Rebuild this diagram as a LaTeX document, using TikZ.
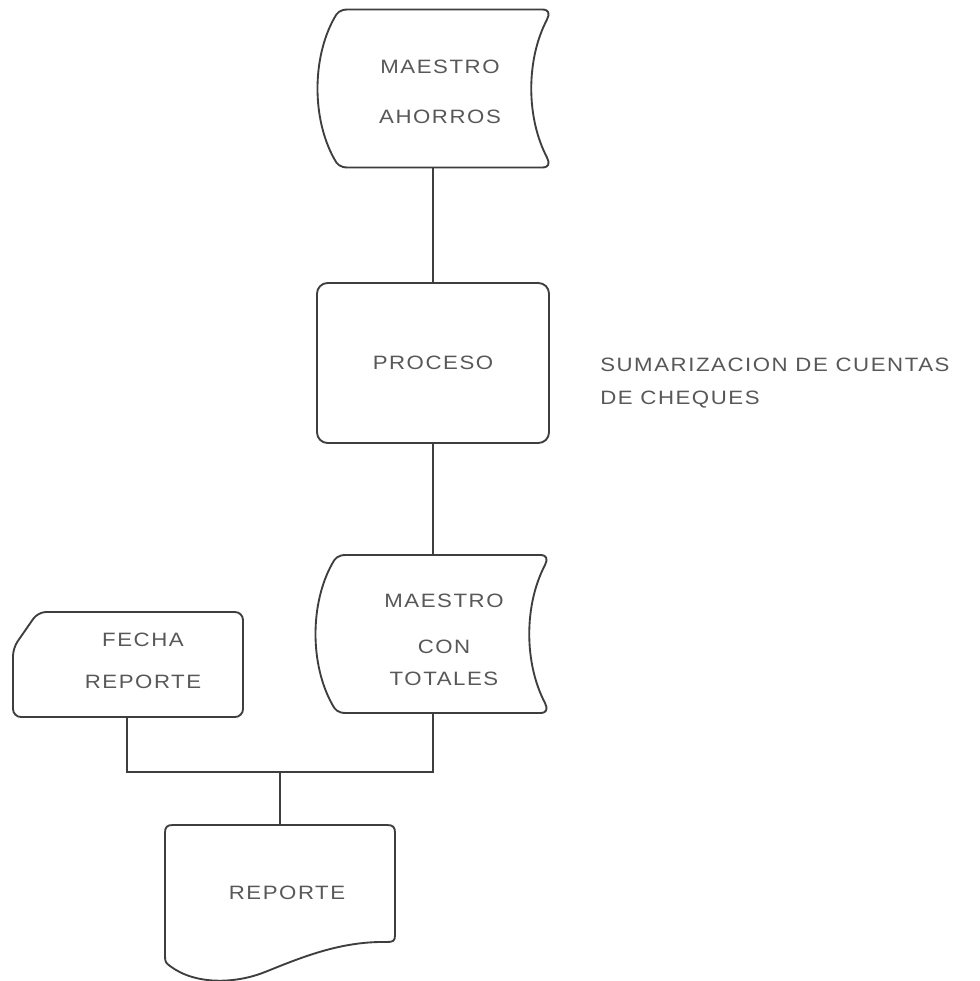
\documentclass[tikz,border=0pt]{standalone}
\usepackage{fontspec}
\newfontfamily\typed{Liberation Sans}[FakeStretch=1.15,LetterSpace=8]
\definecolor{ink}{RGB}{62,62,62}
\definecolor{typeink}{RGB}{88,88,88}

\tikzset{
  outline/.style={draw=ink,line width=1.4pt,line join=round},
  wire/.style={draw=ink,line width=1.3pt},
  lbl/.style={text=typeink,align=center,inner sep=0pt},
  procbox/.style={outline,rounded corners=8pt,minimum width=174pt,minimum height=120pt,
    text=typeink,font={\typed\fontsize{14.5}{16}\selectfont}},
  % magnetic tape symbol, drawn around its own centre
  tapeshape/.pic={
    \draw[outline] (-98,-79) -- (96,-79)
      .. controls (103,-79) and (104,-75) .. (101,-69)
      .. controls (80,-29) and (80,29) .. (101,69)
      .. controls (104,75) and (103,79) .. (96,79)
      -- (-98,79)
      .. controls (-106,79) and (-109,76) .. (-112,70)
      .. controls (-134,30) and (-134,-30) .. (-112,-70)
      .. controls (-109,-76) and (-106,-79) .. (-98,-79) -- cycle;
  }
}

\begin{document}
\begin{tikzpicture}[x=0.75pt,y=-0.75pt]
\fill[white] (0,0) rectangle (979,981);
\useasboundingbox (0,0) rectangle (979,981);

% master savings tape
\pic at (446,88.5) {tapeshape};
\node[lbl,font={\typed\fontsize{14.5}{38}\selectfont}] (ahorros) at (440,92) {MAESTRO\\AHORROS};
\coordinate (ahorros-s) at (433,167.5);

% process
\node[procbox] (proceso) at (433,363) {PROCESO};
\node[lbl,anchor=west,align=left,font={\typed\fontsize{14.5}{24.75}\selectfont}] (nota) at (600,383.5)
  {SUMARIZACION DE CUENTAS\\DE CHEQUES};

% master with totals tape
\pic at (444,634) {tapeshape};
\node[lbl,font={\typed\fontsize{14.5}{24}\selectfont}] (totales) at (444,640) {MAESTRO\\[10.5pt]CON\\TOTALES};
\coordinate (totales-n) at (433,555);
\coordinate (totales-s) at (433,713);

% report date card
\draw[outline,rounded corners=6pt] (38,612) -- (243,612) -- (243,717) -- (13,717) -- (13,648) -- cycle;
\node[lbl,font={\typed\fontsize{14.5}{31.5}\selectfont}] (fecha) at (143,661) {FECHA\\REPORTE};
\coordinate (fecha-s) at (127,717);

% printed report
\draw[outline] (173,825) -- (387,825)
  .. controls (393,825) and (395,827) .. (395,833) -- (395,935)
  .. controls (395,941) and (393,942) .. (387,942)
  .. controls (340,941) and (300,958) .. (265,972)
  .. controls (235,984) and (195,985) .. (170,966)
  .. controls (166,963) and (165,962) .. (165,956)
  -- (165,833) .. controls (165,827) and (167,825) .. (173,825) -- cycle;
\node[lbl,font={\typed\fontsize{14.5}{16}\selectfont}] (reporte) at (287,893) {REPORTE};
\coordinate (reporte-n) at (280,825);

% connectors
\coordinate (bus) at (280,772);
\draw[wire] (ahorros-s) -- (proceso.north);
\draw[wire] (proceso.south) -- (totales-n);
\draw[wire] (fecha-s) |- (bus) -| (totales-s);
\draw[wire] (bus) -- (reporte-n);
\end{tikzpicture}
\end{document}
